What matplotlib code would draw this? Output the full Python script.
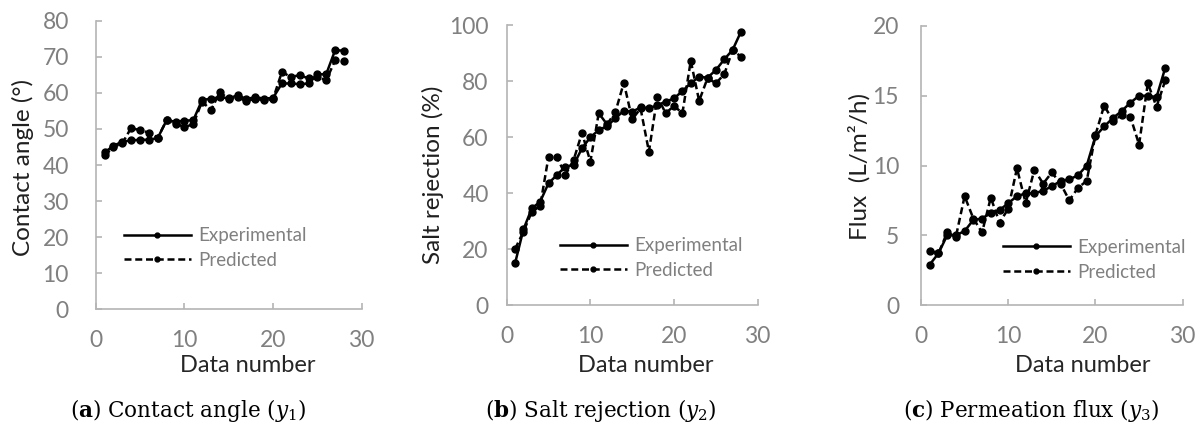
import matplotlib

matplotlib.use("Agg")
import matplotlib.pyplot as plt
from matplotlib.lines import Line2D

plt.rcParams["font.family"] = ["Lato", "DejaVu Sans"]

data_no = list(range(1, 29))

# (a) contact angle
exp_a = [43.5, 45.3, 46.5, 46.8, 47.0, 47.0, 47.5, 52.4, 52.0, 52.3, 52.4, 58.0, 58.4, 58.8,
         58.5, 59.3, 58.3, 58.8, 58.4, 58.6, 62.6, 62.6, 62.4, 62.6, 65.1, 65.2, 71.8, 71.7]
pred_a = [42.7, 45.0, 46.0, 50.3, 49.6, 49.0, 47.6, 52.4, 51.5, 50.5, 51.3, 57.6, 55.2, 60.2,
          58.3, 58.8, 57.7, 58.4, 57.9, 58.3, 65.8, 64.4, 64.9, 64.0, 64.4, 63.5, 69.0, 68.7]

# (b) salt rejection
exp_b = [14.9, 27.0, 34.5, 36.9, 43.5, 46.4, 49.4, 50.0, 56.0, 59.9, 62.5, 63.9, 66.7, 69.4,
         69.0, 70.6, 70.2, 71.4, 72.6, 73.8, 76.4, 79.2, 81.5, 81.2, 83.9, 87.7, 91.1, 97.6]
pred_b = [20.0, 26.2, 33.3, 35.4, 53.0, 53.0, 46.4, 51.8, 61.5, 51.2, 68.5, 64.5, 69.0, 79.4,
          66.3, 70.2, 54.8, 74.4, 68.5, 71.1, 68.5, 87.2, 72.9, 81.0, 79.2, 82.4, 91.0, 88.7]

# (c) permeation flux
exp_c = [2.9, 3.7, 5.0, 5.0, 5.3, 6.1, 6.2, 6.6, 6.8, 7.3, 7.8, 8.0, 8.0, 8.2,
         8.5, 8.9, 9.0, 9.3, 10.0, 12.1, 12.8, 13.4, 13.9, 14.5, 15.0, 15.0, 14.9, 17.0]
pred_c = [3.9, 3.7, 5.2, 4.9, 7.8, 6.2, 5.2, 7.7, 5.9, 6.9, 9.8, 7.3, 9.7, 8.7,
          9.5, 8.7, 7.5, 8.4, 8.9, 12.2, 14.3, 13.2, 13.6, 13.5, 11.5, 15.9, 14.2, 16.1]

ylabels = ["Contact angle (°)", "Salt rejection (%)", "Flux  (L/m²/h)"]
ylims = [(0, 80, 10), (0, 100, 20), (0, 20, 5)]
captions = [r"($\mathbf{a}$) Contact angle ($y_1$)",
            r"($\mathbf{b}$) Salt rejection ($y_2$)",
            r"($\mathbf{c}$) Permeation flux ($y_3$)"]

W, H = 1202, 430
# pixel layout: left, top, right, bottom of each plot area
boxes = [(95.7, 20.7, 361.7, 309.3), (506.7, 25, 757.7, 305), (921, 26, 1182.7, 305)]
ytick_pad = [19.4, 13.0, 15.8]
ylabel_xy = [(22.5, 167), (433, 175), (859, 167)]
xlabel_x = [248, 646, 1083]
caption_x = [188, 601, 1031]
legend_xy = [(124, 248), (560, 258), (1003, 260)]

SPINE = "#b4b4b4"
TICK = "#808080"
DASH = (0, (2.8, 1.5))

fig = plt.figure(figsize=(W / 100, H / 100), dpi=100)


def fx(px):
    return px / W


def fy(py):
    return 1 - py / H


for i, (exp, pred) in enumerate([(exp_a, pred_a), (exp_b, pred_b), (exp_c, pred_c)]):
    l, t, r, b = boxes[i]
    ax = fig.add_axes([fx(l), fy(b), (r - l) / W, (b - t) / H])
    ax.plot(data_no, exp, color="black", lw=1.8, marker="o", ms=5, zorder=3)
    ax.plot(data_no, pred, color="black", lw=1.8, ls=DASH, marker="o", ms=5, zorder=3)
    lo, hi, step = ylims[i]
    ax.set_xlim(0, 30)
    ax.set_ylim(lo, hi)
    ax.set_xticks([0, 10, 20, 30])
    ax.set_yticks(range(lo, hi + 1, step))
    for s in ("top", "right"):
        ax.spines[s].set_visible(False)
    for s in ("left", "bottom"):
        ax.spines[s].set_color(SPINE)
        ax.spines[s].set_linewidth(1.2)
    ax.tick_params(axis="both", direction="in", length=4.5, width=1.2, color=SPINE,
                   labelcolor=TICK, labelsize=16.5)
    ax.tick_params(axis="y", pad=ytick_pad[i])
    ax.tick_params(axis="x", pad=15)

    handles = [Line2D([], [], color="black", lw=1.8, marker="o", ms=3.5),
               Line2D([], [], color="black", lw=1.8, ls=DASH, marker="o", ms=3.5)]
    lx, ly = legend_xy[i]
    ax.legend(handles, ["Experimental", "Predicted"], loc="center left",
              bbox_to_anchor=(fx(lx), fy(ly)), bbox_transform=fig.transFigure,
              frameon=False, borderpad=0, borderaxespad=0, fontsize=13.5,
              handlelength=3.55, handletextpad=0.43, labelspacing=0.42,
              numpoints=1, labelcolor=TICK)

    yx, yy = ylabel_xy[i]
    fig.text(fx(yx), fy(yy), ylabels[i], rotation=90, ha="center", va="center",
             fontsize=17.5, color="#1f1f1f")
    fig.text(fx(xlabel_x[i]), fy(366), "Data number", ha="center", va="center",
             fontsize=17, color="#262626")
    fig.text(fx(caption_x[i]), fy(410), captions[i], ha="center", va="center",
             fontsize=15.5, family="DejaVu Serif", math_fontfamily="dejavuserif",
             color="black")

fig.savefig("out.png", dpi=100)
